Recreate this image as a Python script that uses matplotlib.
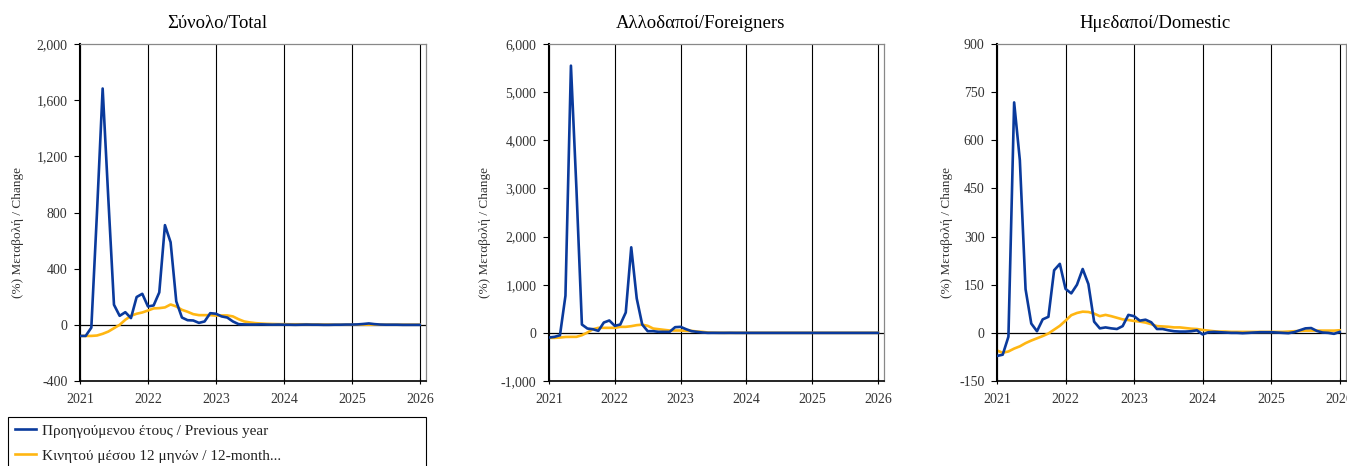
import numpy as np
import matplotlib
matplotlib.use("Agg")
import matplotlib.pyplot as plt
import matplotlib.ticker as ticker

# Data: monthly, Jan 2021 .. Jan 2026
months = 2021 + np.arange(61) / 12.0

total_prev = [-79, -79, -20, 800, 1683, 900, 143, 64, 90, 48, 198, 221,
              131, 138, 231, 710, 588, 167, 52, 33, 31, 14, 24, 83,
              79, 60, 52, 24, 5, 3, 2, 2, 3, 2, 1, 2,
              1, 1, 0, 1, 2, 1, 1, 0, 0, 1, 1, 2,
              2, 3, 6, 10, 5, 2, 1, 1, 1, 0, 0, 0,
              0]
total_avg = [-79, -79, -79, -76, -64, -48, -24, 0, 36, 64, 79, 88,
             102, 117, 119, 124, 145, 131, 107, 93, 76, 69, 69, 69,
             66, 67, 67, 60, 40, 24, 17, 12, 9, 7, 6, 5,
             5, 4, 4, 4, 4, 3, 3, 2, 2, 1, 1, 1,
             1, 1, 1, 1, 1, 1, 1, 1, 1, 1, 1, 1,
             1]

foreign_prev = [-97, -83, -50, 770, 5550, 3000, 173, 90, 76, 42, 215, 257,
                146, 173, 423, 1777, 715, 173, 35, 35, 21, 21, 21, 118,
                125, 76, 35, 21, 7, 0, 1, 0, 0, 1, 0, 0,
                0, 0, 0, 0, 0, 0, 0, 0, 0, 0, 0, 0,
                0, 0, 0, 0, 0, 0, 0, 0, 0, 0, 0, 0,
                0]
foreign_avg = [-104, -104, -97, -85, -83, -83, -49, 7, 76, 104, 104, 104,
               104, 125, 125, 139, 160, 170, 146, 90, 76, 62, 49, 49,
               49, 42, 42, 28, 21, 7, 3, 2, 1, 1, 1, 1,
               1, 1, 1, 1, 1, 1, 1, 1, 1, 1, 1, 1,
               1, 1, 1, 1, 1, 1, 1, 1, 1, 1, 1, 1,
               1]

domestic_prev = [-72, -68, -12, 718, 538, 136, 29, 5, 42, 50, 195, 215,
                 137, 123, 150, 199, 152, 35, 14, 17, 14, 12, 21, 56,
                 52, 38, 41, 33, 12, 12, 8, 5, 4, 4, 5, 8,
                 -5, 2, 3, 2, 1, 0, 0, -1, 0, 1, 2, 2,
                 2, 1, 0, -1, 2, 8, 14, 15, 6, 1, 0, -3,
                 3]
domestic_avg = [-55, -62, -58, -49, -42, -32, -24, -17, -10, -2, 10, 22,
                38, 55, 62, 66, 65, 60, 52, 56, 52, 47, 42, 40,
                37, 35, 32, 27, 21, 20, 19, 17, 17, 15, 13, 12,
                9, 7, 5, 4, 4, 3, 3, 3, 3, 3, 3, 3,
                3, 3, 3, 4, 5, 6, 7, 7, 7, 7, 7, 7,
                8]

titles = ["Σύνολο/Total", "Αλλοδαποί/Foreigners", "Ημεδαποί/Domestic"]
ylabel = "(%) Μεταβολή / Change"
legend_labels = ["Προηγούμενου έτους / Previous year",
                 "Κινητού μέσου 12 μηνών / 12-month..."]
years = [2021, 2022, 2023, 2024, 2025, 2026]

panels = [
    (total_prev, total_avg, (-400, 2000), 400),
    (foreign_prev, foreign_avg, (-1000, 6000), 1000),
    (domestic_prev, domestic_avg, (-150, 900), 150),
]

BLUE = "#0a3a9c"
ORANGE = "#ffb612"

plt.rcParams["font.family"] = ["Liberation Serif", "DejaVu Serif"]

fig = plt.figure(figsize=(13.47, 4.66), dpi=100)

# axes boxes in figure fractions: left, width
boxes = [(80 / 1347, 346 / 1347), (549 / 1347, 335 / 1347), (997 / 1347, 349 / 1347)]
bottom = 1 - 381 / 466
height = 337 / 466
title_x = [217 / 1347, 700 / 1347, 1155 / 1347]
ylabel_x = [18 / 1347, 485 / 1347, 947 / 1347]

lines = []
for k, (prev, avg, ylim, step) in enumerate(panels):
    left, width = boxes[k]
    ax = fig.add_axes([left, bottom, width, height])
    ax.set_xlim(2021, 2026 + 1.1 / 12)
    ax.set_ylim(*ylim)
    for yr in years:
        ax.axvline(yr, color="black", lw=0.8, zorder=1)
    ax.axhline(0, color="black", lw=0.9, zorder=1)
    l1, = ax.plot(months, prev, color=BLUE, lw=1.9, zorder=3)
    l2, = ax.plot(months, avg, color=ORANGE, lw=1.9, zorder=2)
    lines = [l1, l2]

    ax.yaxis.set_major_locator(ticker.MultipleLocator(step))
    ax.yaxis.set_major_formatter(ticker.FuncFormatter(lambda v, p: f"{int(round(v)):,}"))
    ax.set_xticks(years)
    ax.set_xticklabels([str(y) for y in years])
    ax.tick_params(axis="y", direction="out", length=4, width=0.8, labelsize=10,
                   colors="black", pad=5)
    ax.tick_params(axis="x", direction="inout", length=5, width=0.8, labelsize=10,
                   pad=6)
    for lab in ax.get_yticklabels() + ax.get_xticklabels():
        lab.set_color("#333333")

    ax.spines["left"].set_linewidth(1.5)
    ax.spines["bottom"].set_linewidth(1.2)
    for side in ("right", "top"):
        ax.spines[side].set_color("#888888")
        ax.spines[side].set_linewidth(0.9)

    fig.text(title_x[k], 1 - 23 / 466, titles[k], ha="center", va="center", fontsize=13.5)
    fig.text(ylabel_x[k], 1 - 232 / 466, ylabel, ha="center", va="center",
             rotation=90, fontsize=9.5, color="#333333")

leg = fig.legend(lines, legend_labels, loc="upper left",
                 bbox_to_anchor=(8 / 1347, 0.0, 418 / 1347, 1 - 417 / 466),
                 mode="expand", fontsize=11, frameon=True, fancybox=False,
                 edgecolor="black", framealpha=1, handlelength=1.4,
                 handletextpad=0.35, borderpad=0.45, labelspacing=0.75,
                 borderaxespad=0.0)
leg.get_frame().set_linewidth(0.8)
leg._legend_box.align = "left"
for t in leg.get_texts():
    t.set_color("#222222")

fig.savefig("out.png", dpi=100)
